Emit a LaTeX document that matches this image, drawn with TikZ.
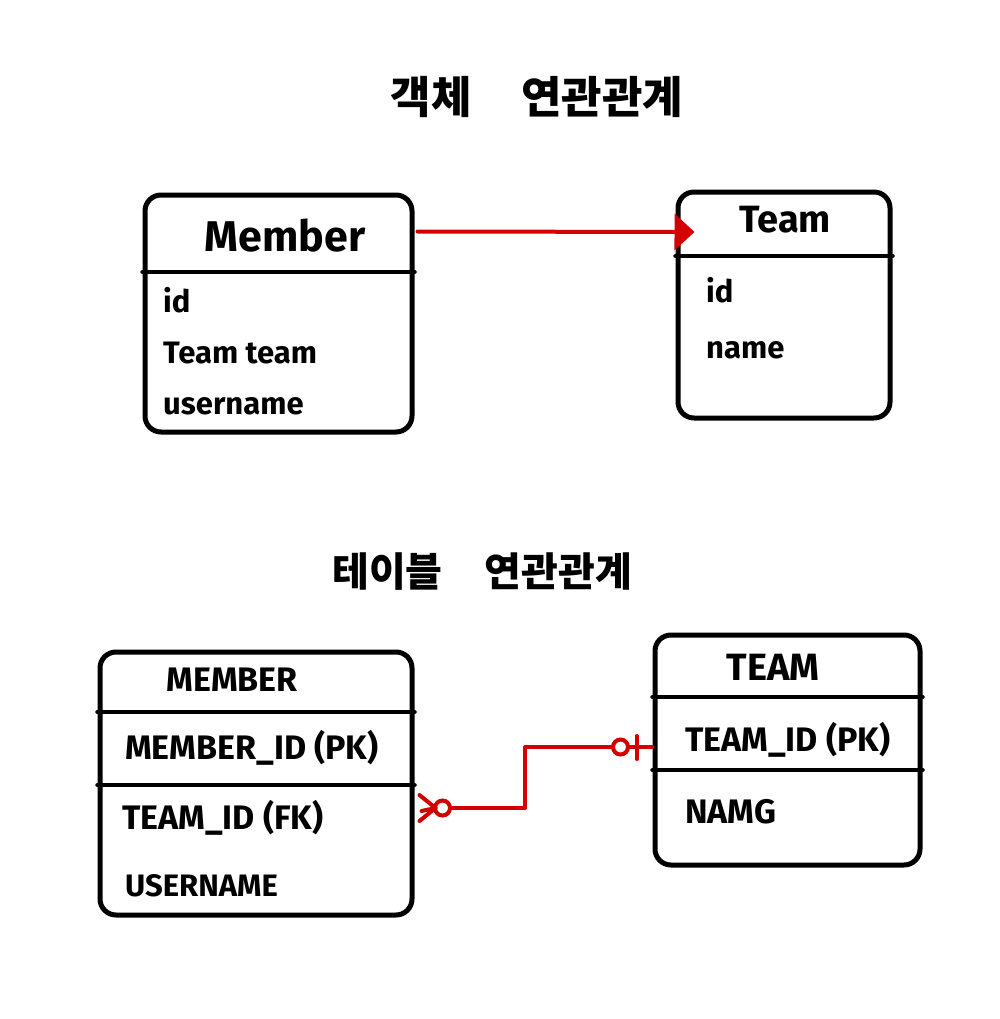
\documentclass[tikz,border=0pt]{standalone}
\usepackage{fontspec}
\setmainfont{Fira Sans}
\newfontfamily\kr{Noto Sans CJK KR}
\usetikzlibrary{arrows.meta,calc}
\definecolor{hred}{HTML}{D40000}
\begin{document}
\begin{tikzpicture}[x=1pt,y=-1pt,
  tbox/.style={draw=black,line width=5pt,rounded corners=16pt,inner sep=0pt},
  sep/.style={draw=black,line width=4.5pt,line cap=round},
  hdr/.style={font=\fontsize{43}{45}\selectfont\bfseries,inner sep=0pt},
  fld/.style={font=\fontsize{31}{33}\selectfont\bfseries,anchor=west,inner sep=0pt},
  upc/.style={font=\fontsize{34}{36}\selectfont\bfseries,anchor=west,inner sep=0pt},
  ttl/.style={font=\kr\fontsize{44}{46}\selectfont\bfseries,inner sep=0pt},
  rel/.style={draw=hred,line width=4pt,line cap=round,line join=round}]
\useasboundingbox (0,0) rectangle (1000,1019);
\fill[white] (0,0) rectangle (1000,1019);

% titles
\node[ttl] (t1) at (537,97) {객체\hspace{50pt}연관관계};
\node[ttl,font=\kr\fontsize{40}{42}\selectfont\bfseries] (t2) at (482,572) {테이블\hspace{42pt}연관관계};

% object Member
\node[tbox,minimum width=267pt,minimum height=237pt] (om) at (278.5,313.5) {};
\draw[sep] (om.west |- 0,272) -- (om.east |- 0,272);
\node[hdr] (omh) at (285,236) {Member};
\node[fld] (om1) at (163,300) {id};
\node[fld] (om2) at (163,353) {Team team};
\node[fld] (om3) at (163,406) {username};

% object Team
\node[tbox,minimum width=212pt,minimum height=226pt] (ot) at (784,305) {};
\draw[sep] (ot.west |- 0,256) -- (ot.east |- 0,256);
\node[hdr,font=\fontsize{38}{40}\selectfont\bfseries] (oth) at (785,220) {Team};
\node[fld] (ot1) at (706,290) {id};
\node[fld] (ot2) at (706,350) {name};

% arrow
\draw[rel,-{Triangle[length=20pt,width=36pt]}] ($(om.east)+(3,-82)$) -- ($(ot.west)+(19,-73)$);

% table MEMBER
\node[tbox,minimum width=312pt,minimum height=263pt] (tm) at (256,783.5) {};
\draw[sep] (tm.west |- 0,712) -- (tm.east |- 0,712);
\draw[sep] (tm.west |- 0,785) -- (tm.east |- 0,785);
\node[upc,anchor=center] (tmh) at (232,680) {MEMBER};
\node[upc] (tm1) at (125,748) {MEMBER\_ID (PK)};
\node[upc] (tm2) at (122,818) {TEAM\_ID (FK)};
\node[upc,font=\fontsize{31}{33}\selectfont\bfseries] (tm3) at (125,886) {USERNAME};

% table TEAM
\node[tbox,minimum width=265pt,minimum height=230pt] (tt) at (787.5,750) {};
\draw[sep] (tt.west |- 0,697) -- (tt.east |- 0,697);
\draw[sep] (tt.west |- 0,770) -- (tt.east |- 0,770);
\node[upc,anchor=center,font=\fontsize{38}{40}\selectfont\bfseries] (tth) at (773,667) {TEAM};
\node[upc] (tt1) at (685,740) {TEAM\_ID (PK)};
\node[upc] (tt2) at (685,812) {NAMG};

% relation
\coordinate (ca) at ($(tm.east)+(5,24.5)$);
\coordinate (cb) at ($(tt.west)+(0,-3)$);
\coordinate (cm) at (ca -| 525,0);
\draw[rel] ($(ca)+(0,-13)$) -- ($(ca)+(16,0)$) -- ($(ca)+(0,13)$);
\draw[rel] ($(ca)+(2,3)$) -- ($(ca)+(16,0)$);
\node[draw=hred,line width=4pt,circle,minimum size=15pt,inner sep=0pt] (co1) at ($(ca)+(23,0)$) {};
\draw[rel] (co1.east) -- (cm) -- (cm |- cb) -- (cb);
\node[draw=hred,line width=4pt,circle,minimum size=15pt,inner sep=0pt,fill=white] (co2) at ($(cb)+(-32,0)$) {};
\draw[rel] ($(cb)+(-16,-11)$) -- ($(cb)+(-16,12)$);
\end{tikzpicture}
\end{document}
